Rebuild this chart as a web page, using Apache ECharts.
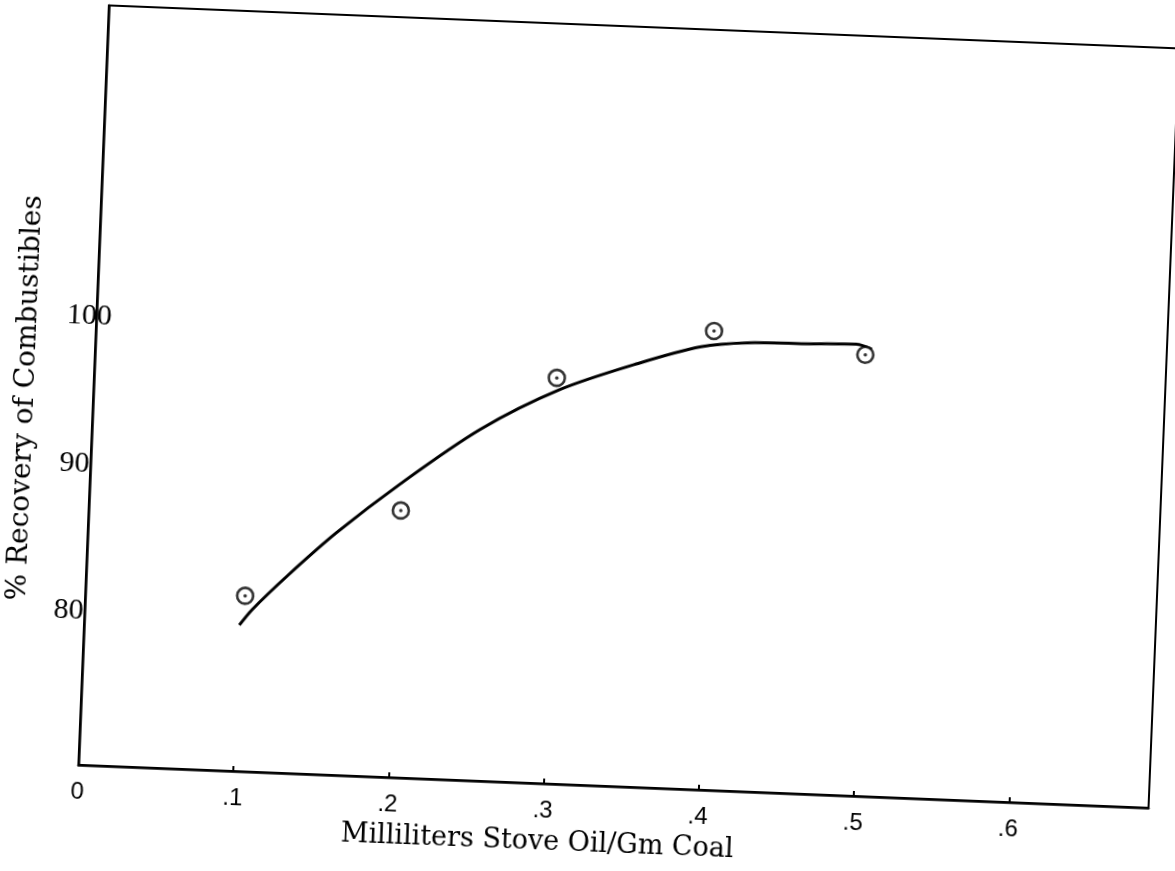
<!DOCTYPE html>
<html><head><meta charset="utf-8">
<script src="https://cdn.jsdelivr.net/npm/echarts@6/dist/echarts.min.js"></script>
<style>
html,body{margin:0;padding:0;background:#fff;overflow:hidden;width:1175px;height:871px}
#chart{width:1175px;height:871px;transform:rotate(2.3deg);transform-origin:50% 50%;}
</style></head>
<body><div id="chart"></div>
<script>
// tick labels
const xTickLabels = ['0', '.1', '.2', '.3', '.4', '.5', '.6'];
const yTickValues = [80, 90, 100];
const yTickLabels = ['80', '90', '100'];
// measured points (circles)
const pointX = [0.103, 0.201, 0.298, 0.398, 0.496];
const pointY = [81.5, 87.7, 97.1, 100.7, 99.5];
// hand-drawn fitted curve
const curveX = [0.100, 0.108, 0.130, 0.160, 0.200, 0.250, 0.300, 0.350, 0.390, 0.420, 0.460, 0.490, 0.500];
const curveY = [79.5, 80.6, 83.0, 86.0, 89.5, 93.4, 96.3, 98.3, 99.6, 100.0, 100.1, 100.2, 99.9];
const xTitle = 'Milliliters Stove Oil/Gm Coal';
const yTitle = '% Recovery of Combustibles';

const ink = '#000';
const chart = echarts.init(document.getElementById('chart'), null, {renderer: 'canvas'});
chart.setOption({
  animation: false,
  backgroundColor: '#fff',
  grid: {left: 92, top: 25, width: 1071, height: 760, show: true, borderColor: ink, borderWidth: 2, backgroundColor: 'transparent'},
  xAxis: {
    type: 'value', min: 0, max: 0.69, interval: 0.1,
    splitLine: {show: false},
    axisLine: {show: true, lineStyle: {color: ink, width: 2.5}},
    axisTick: {show: true, inside: true, length: 5, lineStyle: {color: ink, width: 2}},
    axisLabel: {
      margin: 15, color: ink, fontFamily: 'Liberation Sans', fontSize: 24,
      showMaxLabel: false,
      formatter: function (v) {
        const k = Math.round(v * 10);
        if (Math.abs(v * 10 - k) > 1e-6 || k < 0 || k >= xTickLabels.length) return '';
        return xTickLabels[k];
      }
    },
    name: xTitle, nameLocation: 'middle', nameGap: 45,
    nameTextStyle: {color: ink, fontFamily: 'DejaVu Serif', fontSize: 27, padding: [0, 148, 0, 0]}
  },
  yAxis: {
    type: 'value', min: 69.6, max: 121.1, splitNumber: 5,
    splitLine: {show: false},
    axisLine: {show: true, lineStyle: {color: ink, width: 2.5}},
    axisTick: {show: false},
    axisLabel: {
      margin: 16, align: 'center', color: ink, fontFamily: 'Liberation Serif', fontSize: 30,
      showMinLabel: false, showMaxLabel: false,
      formatter: function (v) {
        const k = yTickValues.indexOf(Math.round(v));
        if (k < 0 || Math.abs(v - Math.round(v)) > 1e-6) return '';
        return k === 2 ? '{h|' + yTickLabels[k] + '}' : yTickLabels[k];
      },
      rich: {h: {fontFamily: 'Liberation Serif', fontSize: 30, color: ink, padding: [0, 0, 0, 18]}}
    },
    name: yTitle, nameLocation: 'middle', nameGap: 53,
    nameTextStyle: {color: ink, fontFamily: 'DejaVu Serif', fontSize: 28, padding: [0, 31, 0, 0]}
  },
  series: [
    {
      type: 'line', data: curveX.map((x, i) => [x, curveY[i]]),
      smooth: 0.3, showSymbol: false, z: 2,
      lineStyle: {color: ink, width: 3}
    },
    {
      type: 'scatter', data: pointX.map((x, i) => [x, pointY[i]]),
      symbol: 'circle', symbolSize: 16, z: 3,
      itemStyle: {color: '#fff', borderColor: ink, borderWidth: 2.6}
    },
    {
      type: 'scatter', data: pointX.map((x, i) => [x, pointY[i]]),
      symbol: 'circle', symbolSize: 3.5, z: 4,
      itemStyle: {color: ink}
    }
  ]
});
</script></body></html>
